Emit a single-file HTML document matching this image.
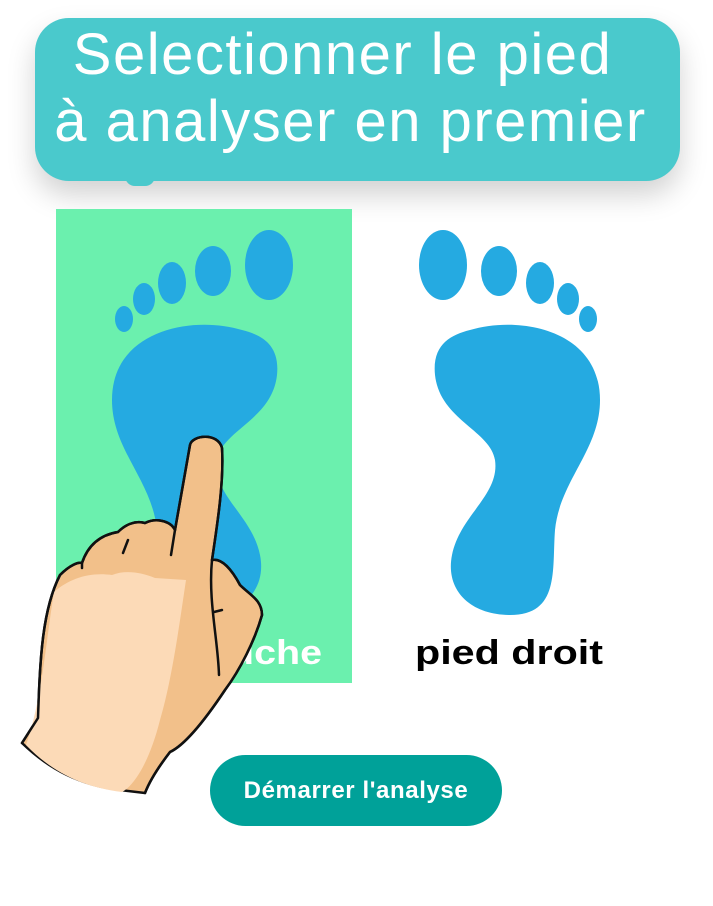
<!DOCTYPE html>
<html><head><meta charset="utf-8"><style>
html,body{margin:0;padding:0;background:#fff;width:713px;height:906px;overflow:hidden;position:relative;font-family:"Liberation Sans",sans-serif}
.bub{position:absolute;left:35px;top:18px;width:645px;height:163px;background:#4AC9CC;border-radius:34px;box-shadow:0 14px 28px rgba(0,0,0,0.18);}
.tail{position:absolute;left:125px;top:176px;width:30px;height:10px;background:#4AC9CC;border-radius:0 0 15px 15px}
.t{position:absolute;color:#fff;font-size:58px;line-height:1;letter-spacing:1.5px;white-space:nowrap;text-align:center;width:713px;left:0}
.green{position:absolute;left:56px;top:209px;width:296px;height:474px;background:#6BF0AE}
.btn{position:absolute;left:210px;top:755px;width:292px;height:71px;background:#00A199;border-radius:36px;color:#fff;font-size:24px;font-weight:bold;letter-spacing:0.6px;text-align:center;line-height:71px}
</style></head><body>
<div class="bub"></div><div class="tail"></div>
<div class="t" style="top:26px;left:-14px">Selectionner le pied</div>
<div class="t" style="top:93px;left:-6px">à analyser en premier</div>
<div class="green"></div>
<svg width="713" height="906" style="position:absolute;left:0;top:0">
<defs><g id="foot" fill="#25AAE1">
<ellipse cx="443" cy="265" rx="24" ry="35"/>
<ellipse cx="499" cy="271" rx="18" ry="25"/>
<ellipse cx="540" cy="283" rx="14" ry="21"/>
<ellipse cx="568" cy="299" rx="11" ry="16"/>
<ellipse cx="588" cy="319" rx="9" ry="13"/>
<path d="M470,330 C520,315 600,330 600,400 C600,450 560,480 555,530 C552,570 560,615 510,615 C470,615 445,590 452,555 C460,515 500,495 495,460 C490,430 440,420 435,375 C432,345 450,335 470,330 Z"/>
</g></defs>
<use href="#foot"/>
<use href="#foot" transform="translate(712,0) scale(-1,1)"/>
<text x="92" y="664" fill="#fff" font-size="34" font-weight="bold" textLength="230" lengthAdjust="spacingAndGlyphs" font-family="Liberation Sans, sans-serif">pied gauche</text>
<text x="415" y="664" fill="#000" font-size="34" font-weight="bold" textLength="188" lengthAdjust="spacingAndGlyphs" font-family="Liberation Sans, sans-serif">pied droit</text>
<g stroke="#111" stroke-width="2.5" stroke-linejoin="round" stroke-linecap="round">
<path fill="#F2C08A" d="M22,743 L38,718 C40,660 42,610 60,575 C70,565 78,562 82,563 C88,545 100,535 118,532 C125,525 135,520 145,523 C155,518 170,520 175,530 L190,445 C192,435 218,432 222,448 C224,480 218,520 212,560 C222,558 232,570 240,585 C250,595 262,600 262,615 C255,640 240,670 225,690 C205,720 185,745 170,752 C160,765 150,780 145,793 L120,790 C80,785 50,770 22,743 Z"/>
<path fill="#FCDAB7" stroke="none" d="M26,745 C42,700 46,640 54,592 C70,578 90,572 112,575 C125,570 140,572 155,578 L186,580 C180,620 172,680 160,720 C150,760 135,785 122,792 C80,787 50,770 26,745 Z"/>
<path fill="none" d="M22,743 L38,718 C40,660 42,610 60,575 C70,565 78,562 82,563 C88,545 100,535 118,532 C125,525 135,520 145,523 C155,518 170,520 175,530 L190,445 C192,435 218,432 222,448 C224,480 218,520 212,560 C222,558 232,570 240,585 C250,595 262,600 262,615 C255,640 240,670 225,690 C205,720 185,745 170,752 C160,765 150,780 145,793"/>
<path fill="none" d="M82,563 L82,568 M123,553 L128,540 M171,555 L175,530 M212,560 C208,600 218,640 219,675 M214,612 L222,610"/>
</g>
</svg>
<div class="btn">Démarrer l'analyse</div>
</body></html>
